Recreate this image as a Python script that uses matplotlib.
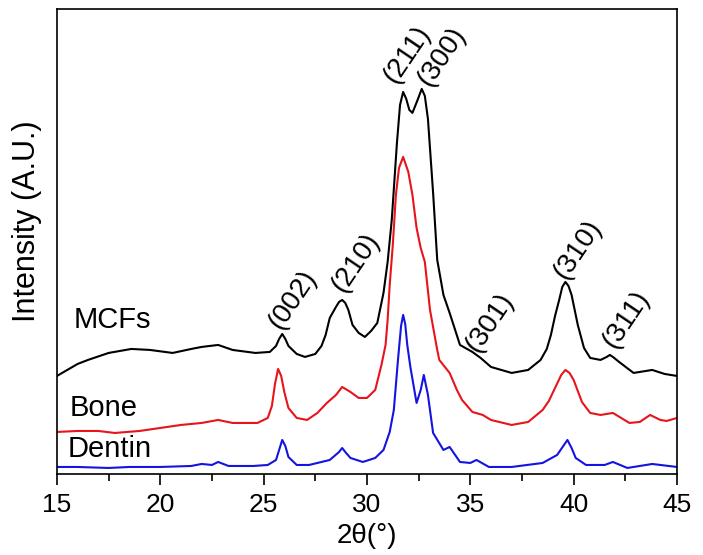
import numpy as np
import matplotlib
matplotlib.use('Agg')
import matplotlib.pyplot as plt
from matplotlib.ticker import MultipleLocator

plt.rcParams['font.family'] = ['Liberation Sans', 'DejaVu Sans']

# MCFs (black)
mcf_x = [15.0, 15.5, 16.0, 16.5, 17.5, 18.6, 19.5, 20.6, 21.5, 22.0, 22.8, 23.5, 24.6, 25.3,
         25.6, 25.75, 25.9, 26.05, 26.2, 26.6, 27.0, 27.5, 27.8, 28.0, 28.2, 28.5, 28.65,
         28.8, 28.95, 29.1, 29.3, 29.6, 29.9, 30.2, 30.5, 30.8, 31.0, 31.2, 31.45, 31.6,
         31.75, 31.9, 32.05, 32.2, 32.45, 32.65, 32.8, 32.95, 33.2, 33.4, 33.7, 34.0,
         34.5, 35.1, 35.5, 36.0, 37.0, 37.8, 38.4, 38.7, 38.9, 39.1, 39.3, 39.45, 39.6,
         39.75, 39.9, 40.2, 40.5, 40.8, 41.3, 41.6, 41.75, 41.9, 42.2, 42.9, 43.8, 44.4, 45.0]
mcf_y = [98, 104, 110, 114, 121, 125, 124, 121, 125, 127, 129, 124, 121, 122,
         128, 135, 140, 135, 128, 120, 117, 120, 128, 139, 156, 167, 172,
         174, 171, 164, 149, 141, 137, 143, 151, 181, 212, 254, 331, 369,
         382, 375, 364, 361, 374, 385, 378, 355, 281, 214, 179, 161,
         129, 122, 116, 107, 101, 104, 114, 125, 139, 158, 174, 187, 192,
         188, 179, 149, 126, 116, 114, 117, 119, 117, 112, 101, 104, 100, 98]

# Bone (red)
bone_x = [15.0, 16.0, 17.0, 17.8, 19.0, 20.0, 21.0, 22.0, 22.8, 23.5, 24.7, 25.2, 25.4,
          25.55, 25.7, 25.85, 26.0, 26.2, 26.6, 27.1, 27.6, 28.06, 28.5, 28.8, 29.2, 29.6,
          30.0, 30.4, 30.7, 30.9, 31.0, 31.1, 31.25, 31.4, 31.55, 31.75, 32.0, 32.2, 32.4,
          32.6, 32.8, 33.05, 33.4, 33.5, 34.0, 34.35, 34.6, 35.1, 35.6, 36.0, 37.0, 37.8,
          38.5, 38.8, 39.1, 39.4, 39.6, 39.8, 40.0, 40.4, 40.8, 41.3, 41.9, 42.3, 42.7,
          43.2, 43.7, 44.2, 44.5, 45.0]
bone_y = [42, 43, 43, 41, 43, 46, 49, 51, 54, 51, 51, 56, 68,
          90, 105, 98, 82, 66, 56, 54, 61, 71, 79, 87, 82, 76,
          76, 84, 109, 129, 154, 189, 229, 279, 306, 317, 302, 279, 246,
          226, 212, 164, 124, 114, 101, 84, 74, 62, 59, 54, 49, 52,
          64, 73, 86, 99, 104, 101, 94, 72, 61, 59, 61, 56, 51,
          52, 59, 54, 53, 56]

# Dentin (blue)
dentin_x = [15.0, 16.0, 17.5, 18.5, 20.0, 21.5, 22.0, 22.5, 22.8, 23.3, 24.5, 25.2, 25.6,
            25.75, 25.9, 26.05, 26.2, 26.6, 27.2, 28.2, 28.65, 28.8, 28.95, 29.2, 29.8,
            30.4, 30.8, 31.1, 31.3, 31.5, 31.65, 31.75, 31.85, 31.95, 32.1, 32.4, 32.6,
            32.75, 32.95, 33.2, 33.7, 34.0, 34.5, 35.0, 35.3, 35.9, 37.0, 38.5, 39.2, 39.5,
            39.7, 39.9, 40.1, 40.6, 41.5, 41.9, 42.6, 43.8, 45.0]
dentin_y = [7, 7, 6, 7, 7, 8, 10, 9, 12, 8, 8, 9, 14,
            24, 34, 28, 17, 9, 9, 14, 22, 26, 22, 16, 12,
            16, 24, 42, 64, 114, 148, 159, 150, 129, 107, 71, 84,
            99, 79, 41, 24, 27, 12, 11, 14, 7, 7, 11, 19, 28,
            34, 26, 16, 9, 9, 12, 6, 10, 7]

peak_labels = ['(002)', '(210)', '(211)', '(300)', '(301)', '(310)', '(311)']
peak_x = [26.42, 29.47, 31.93, 33.63, 35.95, 40.2, 42.53]
peak_y = [174, 211, 419, 417, 151, 224, 154]

fig = plt.figure(figsize=(7.03, 5.55), dpi=100)
ax = fig.add_axes([0.081, 0.146, 0.882, 0.838])

ax.plot(mcf_x, mcf_y, color='black', lw=1.5)
ax.plot(bone_x, bone_y, color='#e8141c', lw=1.5)
ax.plot(dentin_x, dentin_y, color='#1414e0', lw=1.5)

ax.text(15.8, 154, 'MCFs', fontsize=21, va='center', ha='left')
ax.text(15.6, 66, 'Bone', fontsize=21, va='center', ha='left')
ax.text(15.5, 25, 'Dentin', fontsize=21, va='center', ha='left')

for lab, px, py in zip(peak_labels, peak_x, peak_y):
    ax.text(px, py, lab, fontsize=20, rotation=56, rotation_mode='anchor',
            ha='center', va='center')

ax.set_xlim(15, 45)
ax.set_ylim(0, 465)
ax.xaxis.set_major_locator(MultipleLocator(5))
ax.xaxis.set_minor_locator(MultipleLocator(2.5))
ax.tick_params(axis='x', which='major', direction='out', length=8, width=1.2, labelsize=19, pad=6)
ax.tick_params(axis='x', which='minor', direction='out', length=5, width=1.2)
ax.set_yticks([])
for s in ax.spines.values():
    s.set_linewidth(1.2)

ax.set_xlabel('2θ(°)', fontsize=20, labelpad=4)
ax.set_ylabel('Intensity (A.U.)', fontsize=22)
ax.yaxis.set_label_coords(-0.024, 0.544)

fig.savefig('out.png', dpi=100)
